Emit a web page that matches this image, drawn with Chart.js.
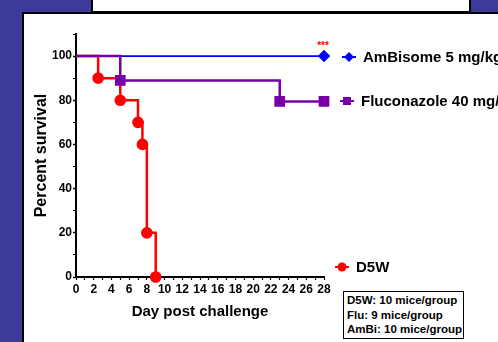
<!DOCTYPE html>
<html>
<head>
<meta charset="utf-8">
<script src="https://cdn.jsdelivr.net/npm/chart.js@4/dist/chart.umd.min.js"></script>
<style>
  html, body { margin: 0; padding: 0; }
  body {
    width: 498px; height: 342px; overflow: hidden; position: relative;
    background: #3d3a9b;
    font-family: "Liberation Sans", Arial, sans-serif;
  }
  #topBox {
    position: absolute; left: 91px; top: -2px; width: 376px; height: 11px;
    background: #fff; border: 2px solid #000;
  }
  #panel {
    position: absolute; left: 22px; top: 12px; width: 476px; height: 330px;
    background: #fff; border-left: 2px solid #000; border-top: 2px solid #000;
  }
  #chartWrap {
    position: absolute; left: 24px; top: 14px; width: 474px; height: 328px;
  }
  #miceBox {
    position: absolute; left: 343px; top: 291px; width: 116px; height: 45px;
    border: 1px solid #000; background: #fff;
    padding: 1px 0 0 3px;
    font-weight: bold; font-size: 11.5px; line-height: 14.5px; color: #000;
  }
</style>
</head>
<body>
<div id="topBox"></div>
<div id="panel"></div>
<div id="chartWrap"><canvas id="myChart"></canvas></div>
<div id="miceBox">D5W: 10 mice/group<br>Flu: 9 mice/group<br>AmBi: 10 mice/group</div>

<script>
'use strict';

// ======= data =======

var ambiDays = [0, 28];
var ambiSurvival = [100, 100];

var fluDays = [0, 5, 23, 28];
var fluSurvival = [100, 89, 79.5, 79.5];

var d5wDays = [0, 2.5, 5, 7, 7.5, 8, 9];
var d5wSurvival = [100, 90, 80, 70, 60, 20, 0];

var seriesNames = ['AmBisome 5 mg/kg', 'Fluconazole 40 mg/kg', 'D5W'];
var xTickLabels = [0, 2, 4, 6, 8, 10, 12, 14, 16, 18, 20, 22, 24, 26, 28];
var yTickLabels = [0, 20, 40, 60, 80, 100];

// ======= helpers =======

function toPoints(days, values) {
  var pts = [];
  for (var i = 0; i < days.length; i++) {
    pts.push({ x: days[i], y: values[i] });
  }
  return pts;
}

// no marker on the starting point of a curve
function hideFirst(r) {
  return function (ctx) { return ctx.dataIndex === 0 ? 0 : r; };
}

var FONT = '"Liberation Sans", Arial, sans-serif';

// legend drawn next to the curves, like the GraphPad figure
var sideLegend = {
  id: 'sideLegend',
  afterDraw: function (chart) {
    var ctx = chart.ctx;
    var entries = [
      { name: seriesNames[0], color: '#0000ff', shape: 'diamond', x: 325, y: 43 },
      { name: seriesNames[1], color: '#7400a6', shape: 'square', x: 323, y: 87 },
      { name: seriesNames[2], color: '#ff0000', shape: 'circle', x: 318, y: 253 }
    ];
    ctx.save();
    entries.forEach(function (e) {
      ctx.strokeStyle = e.color;
      ctx.fillStyle = e.color;
      ctx.lineWidth = 2;
      ctx.beginPath();
      ctx.moveTo(e.x - 7, e.y);
      ctx.lineTo(e.x + 7, e.y);
      ctx.stroke();
      ctx.beginPath();
      if (e.shape === 'diamond') {
        ctx.moveTo(e.x, e.y - 5); ctx.lineTo(e.x + 5, e.y);
        ctx.lineTo(e.x, e.y + 5); ctx.lineTo(e.x - 5, e.y);
        ctx.closePath();
      } else if (e.shape === 'square') {
        ctx.rect(e.x - 4, e.y - 4, 8, 8);
      } else {
        ctx.arc(e.x, e.y, 4.5, 0, Math.PI * 2);
      }
      ctx.fill();
      ctx.fillStyle = '#000';
      ctx.font = 'bold 15px ' + FONT;
      ctx.textBaseline = 'middle';
      ctx.fillText(e.name, e.x + 14, e.y + 1);
    });

    // significance stars over the AmBisome end point
    var xs = chart.scales.x, ys = chart.scales.y;
    ctx.fillStyle = '#ff0000';
    ctx.font = 'bold 10px ' + FONT;
    ctx.textAlign = 'center';
    ctx.textBaseline = 'middle';
    ctx.fillText('***', xs.getPixelForValue(28) - 1, ys.getPixelForValue(100) - 10);
    ctx.restore();
  }
};

// ======= chart =======

var ctx = document.getElementById('myChart').getContext('2d');
var chart = new Chart(ctx, {
  type: 'line',
  data: {
    datasets: [{
      label: seriesNames[1],
      data: toPoints(fluDays, fluSurvival),
      borderColor: '#7400a6',
      backgroundColor: '#7400a6',
      borderWidth: 2.5,
      stepped: 'before',
      pointStyle: 'rect',
      pointRadius: hideFirst(5.8),
      pointHoverRadius: hideFirst(5.8),
      clip: false
    },
    {
      label: seriesNames[2],
      data: toPoints(d5wDays, d5wSurvival),
      borderColor: '#ff0000',
      backgroundColor: '#ff0000',
      borderWidth: 2.5,
      stepped: 'before',
      pointStyle: 'circle',
      pointRadius: hideFirst(4.6),
      pointHoverRadius: hideFirst(4.6),
      clip: false
    },
    {
      label: seriesNames[0],
      data: toPoints(ambiDays, ambiSurvival),
      borderColor: '#0000ff',
      backgroundColor: '#0000ff',
      borderWidth: 1.8,
      stepped: 'before',
      pointStyle: 'rectRot',
      pointRadius: hideFirst(5),
      pointHoverRadius: hideFirst(5),
      clip: false
    }]
  },
  options: {
    responsive: true,
    maintainAspectRatio: false,
    animation: false,
    events: [],
    layout: { padding: { top: 20, right: 174, left: 0, bottom: 0 } },
    plugins: {
      legend: { display: false },
      tooltip: { enabled: false }
    },
    scales: {
      x: {
        type: 'linear',
        min: 0,
        max: 28,
        afterFit: function (scale) { scale.height = 65; },
        border: { display: true, color: '#000', width: 2 },
        grid: { drawOnChartArea: false, drawTicks: true, tickLength: 3, tickColor: '#000', tickWidth: 1.2 },
        ticks: {
          stepSize: 1,
          autoSkip: false,
          maxRotation: 0,
          padding: 2,
          color: '#000',
          font: { family: FONT, size: 12, weight: 'bold' },
          callback: function (v) { return xTickLabels.indexOf(v) >= 0 ? String(v) : ''; }
        },
        title: {
          display: true,
          text: 'Day post challenge',
          color: '#000',
          font: { family: FONT, size: 15, weight: 'bold' },
          padding: { top: 0, bottom: 21 }
        }
      },
      y: {
        type: 'linear',
        min: 0,
        max: 110,
        afterFit: function (scale) { scale.width = 52; },
        border: { display: true, color: '#000', width: 2 },
        grid: {
          drawOnChartArea: false, drawTicks: true, tickLength: 3, tickColor: '#000',
          tickWidth: function (c) { return c.tick && c.tick.value % 20 === 0 ? 1.5 : 1; }
        },
        ticks: {
          stepSize: 5,
          padding: 1,
          color: '#000',
          font: { family: FONT, size: 12, weight: 'bold' },
          callback: function (v) { return yTickLabels.indexOf(v) >= 0 ? String(v) : ''; }
        },
        title: {
          display: true,
          text: 'Percent survival',
          color: '#000',
          font: { family: FONT, size: 16, weight: 'bold' },
          padding: { top: 8, bottom: 0 }
        }
      }
    }
  },
  plugins: [sideLegend]
});
</script>
</body>
</html>
